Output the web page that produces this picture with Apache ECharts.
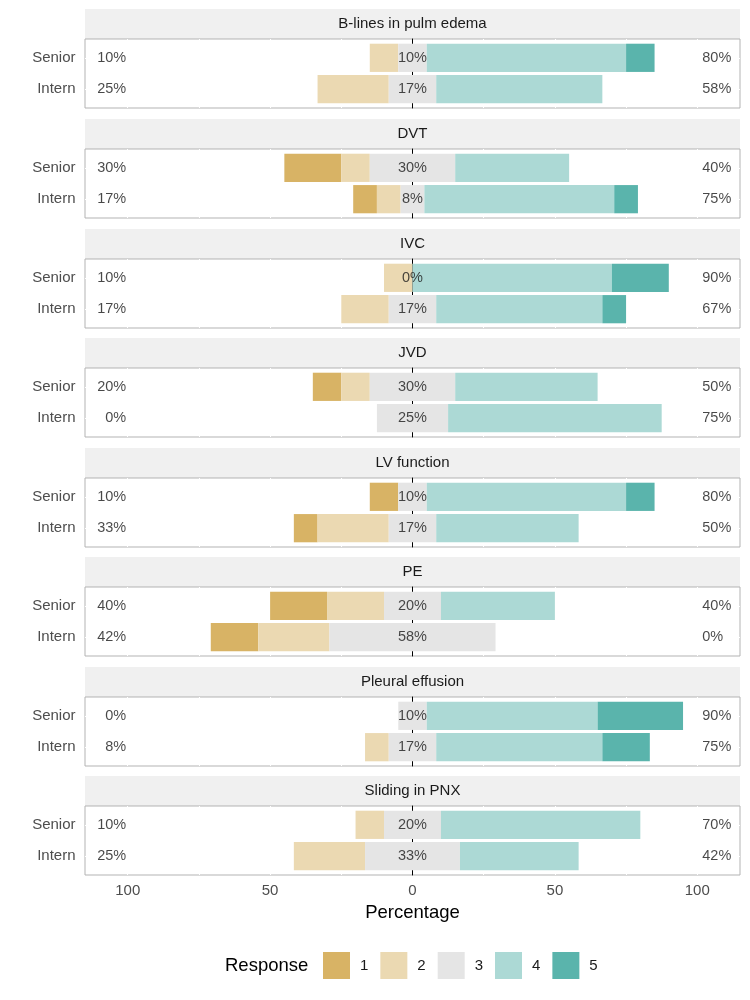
<!DOCTYPE html>
<html><head><meta charset="utf-8">
<script src="https://cdn.jsdelivr.net/npm/echarts@6/dist/echarts.min.js"></script>
<style>html,body{margin:0;padding:0;background:#fff}#c{width:750px;height:1000px}</style>
</head><body><div id="c"></div>
<script>
const items = ['B-lines in pulm edema','DVT','IVC','JVD','LV function','PE','Pleural effusion','Sliding in PNX'];
const groups = ['Senior','Intern'];
const responses = ['1','2','3','4','5'];
// percentage of answers per item, [Senior, Intern]
const resp1 = [[0,0],[20,8.33],[0,0],[10,0],[10,8.33],[20,16.67],[0,0],[0,0]];
const resp2 = [[10,25],[10,8.33],[10,16.67],[10,0],[0,25],[20,25],[0,8.33],[10,25]];
const resp3 = [[10,16.67],[30,8.33],[0,16.67],[30,25],[10,16.67],[20,58.33],[10,16.67],[20,33.33]];
const resp4 = [[70,58.33],[40,66.67],[70,58.33],[50,75],[70,50],[40,0],[60,58.33],[70,41.67]];
const resp5 = [[10,0],[0,8.33],[20,8.33],[0,0],[10,0],[0,0],[30,16.67],[0,0]];
const xTickLabels = [-100,-50,0,50,100];
const gridLineValues = [-100,-75,-50,-25,0,25,50,75,100];

const colors = {'1':'#D8B365','2':'#EBD9B2','3':'#E5E5E5','4':'#ACD9D5','5':'#5AB4AC'};
const FONT = 'Liberation Sans, Arial, Helvetica, sans-serif';
const L = 85, W = 655, PH = 69, STRIP = 30;
const XMIN = -115, XMAX = 115;
const pct = v => Math.round(v) + '%';

const grid = [], xAxis = [], yAxis = [], series = [], graphic = [];
items.forEach((item, i) => {
  const pt = Math.round(39.3 + 109.6 * i);
  const last = i === items.length - 1;
  const unit = PH / 2.2;
  grid.push({left: L, top: pt, width: W, height: PH, show: true, borderColor: '#B3B3B3', borderWidth: 1, backgroundColor: '#fff'});
  grid.push({left: L, top: pt + unit * 0.1, width: W, height: unit * 2});
  const f = 2 * i, b = 2 * i + 1;
  xAxis.push({gridIndex: f, type: 'value', min: XMIN, max: XMAX,
    axisLine: {show: false, onZero: false},
    axisTick: {show: false, customValues: gridLineValues},
    splitLine: {show: true, lineStyle: {color: '#ffffff', width: 1}},
    axisLabel: last ? {show: true, customValues: xTickLabels, formatter: v => String(Math.abs(v)), color: '#4D4D4D', fontSize: 15, fontFamily: FONT, margin: 8} : {show: false},
    name: last ? 'Percentage' : '', nameLocation: 'middle', nameGap: 28,
    nameTextStyle: {fontSize: 18.5, color: '#000', fontFamily: FONT}
  });
  // frame y axis: its line sits on x = 0 and serves as the zero reference line
  yAxis.push({gridIndex: f, type: 'value', min: 0.4, max: 2.6, inverse: true,
    axisLine: {show: true, onZero: true, lineStyle: {color: '#000', width: 1}},
    axisLabel: {show: false},
    axisTick: {show: false, customValues: [1, 2]},
    splitLine: {show: true, lineStyle: {color: '#ffffff', width: 1}}
  });
  xAxis.push({gridIndex: b, type: 'value', min: XMIN, max: XMAX, show: false});
  yAxis.push({gridIndex: b, type: 'category', data: groups, inverse: true,
    axisLine: {show: false, onZero: false}, axisTick: {show: false}, splitLine: {show: false},
    axisLabel: {color: '#4D4D4D', fontSize: 15, fontFamily: FONT, margin: 9.5}
  });

  const stack = 's' + i;
  const mk = (name, vals, color) => ({type: 'bar', name, xAxisIndex: b, yAxisIndex: b, stack, stackStrategy: 'all',
    barWidth: '90%', z: 3, zlevel: 1, silent: true,
    itemStyle: {color}, data: vals});
  // invisible offset so the neutral block is centred on zero
  series.push(mk('offset', groups.map((g, j) => -(resp1[i][j] + resp2[i][j] + resp3[i][j] / 2)), 'rgba(0,0,0,0)'));
  series.push(mk('1', resp1[i], colors['1']));
  series.push(mk('2', resp2[i], colors['2']));
  series.push(mk('3', resp3[i], colors['3']));
  series.push(mk('4', resp4[i], colors['4']));
  series.push(mk('5', resp5[i], colors['5']));

  const low = groups.map((g, j) => pct(resp1[i][j] + resp2[i][j]));
  const mid = groups.map((g, j) => pct(resp3[i][j]));
  const high = groups.map((g, j) => pct(resp4[i][j] + resp5[i][j]));
  const lab = (x, texts, pos, dist) => ({type: 'scatter', xAxisIndex: b, yAxisIndex: b, z: 6, zlevel: 1, silent: true,
    symbolSize: 1, itemStyle: {color: 'rgba(0,0,0,0)'},
    data: groups.map((g, j) => [x, j]),
    label: {show: true, position: pos, distance: dist, formatter: p => texts[p.dataIndex],
      fontSize: 14.5, color: '#1A1A1A', fontFamily: FONT}
  });
  series.push(lab(-100, low, 'left', 1));
  series.push(lab(0, mid, 'inside', 0));
  series.push(lab(100, high, 'right', 4.5));

  graphic.push({type: 'rect', shape: {x: L, y: pt - STRIP, width: W, height: STRIP}, style: {fill: '#F0F0F0'}, z: -10});
  graphic.push({type: 'text', x: L + W / 2, y: pt - STRIP / 2, style: {text: item, fontSize: 15, fill: '#1A1A1A', fontFamily: FONT, textAlign: 'center', textVerticalAlign: 'middle'}, z: 10});
});

graphic.push({type: 'text', x: 225, y: 966, style: {text: 'Response', fontSize: 18.5, fill: '#000', fontFamily: FONT, textAlign: 'left', textVerticalAlign: 'middle'}});

const chart = echarts.init(document.getElementById('c'), null, {renderer: 'canvas'});
chart.setOption({
  animation: false,
  backgroundColor: '#fff',
  color: ['#D8B365','#EBD9B2','#E5E5E5','#ACD9D5','#5AB4AC'],
  grid, xAxis, yAxis, series, graphic,
  legend: {data: responses, left: 323, top: 952, padding: 0, orient: 'horizontal', itemWidth: 27, itemHeight: 27, itemGap: 12, icon: 'rect',
    selectedMode: false, itemStyle: {borderWidth: 0},
    textStyle: {fontSize: 15, color: '#1A1A1A', fontFamily: FONT, padding: [0, 0, 0, 5]}}
});
</script>
</body></html>
